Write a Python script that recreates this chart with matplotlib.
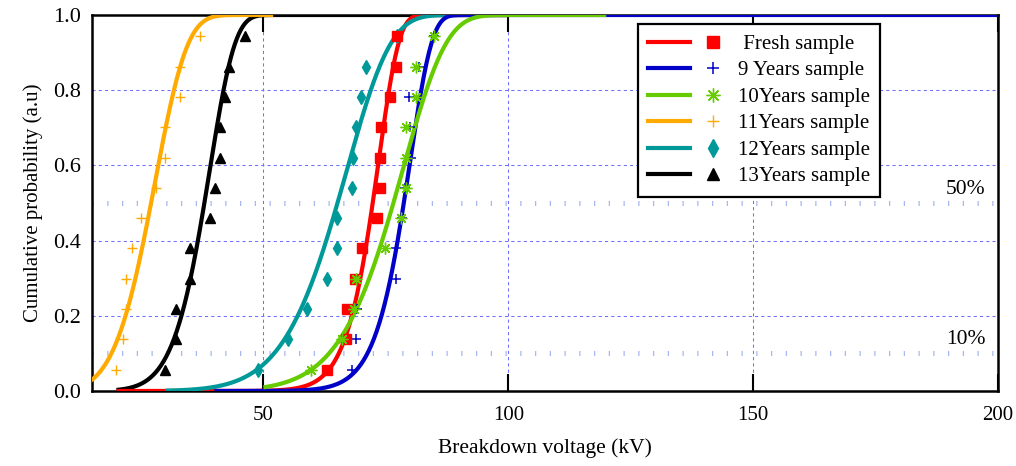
import numpy as np
import matplotlib
matplotlib.use("Agg")
import matplotlib.pyplot as plt
from matplotlib.lines import Line2D
from matplotlib.legend_handler import HandlerTuple

plt.rcParams['font.family'] = ['Liberation Serif', 'DejaVu Serif']

# ---------------- data ----------------
ranks = [0.056, 0.137, 0.218, 0.298, 0.379, 0.460, 0.540, 0.621, 0.702, 0.782, 0.863, 0.944]

labels = [" Fresh sample", "9 Years sample", "10Years sample", "11Years sample",
          "12Years sample", "13Years sample"]

fresh_x = [63.0, 66.8, 67.1, 68.8, 70.2, 73.1, 73.8, 73.9, 74.1, 75.8, 77.0, 77.2]
y9_x = [68.0, 69.0, 69.2, 77.0, 77.0, 78.2, 79.0, 80.2, 79.9, 79.8, 81.8, 84.8]
y10_x = [59.8, 66.1, 68.4, 69.0, 74.9, 78.0, 79.1, 79.1, 79.1, 81.1, 81.1, 84.8]
y11_x = [19.9, 21.3, 21.9, 21.9, 23.1, 25.1, 28.0, 30.0, 30.0, 33.0, 33.0, 37.0]
y12_x = [48.9, 55.1, 58.9, 63.0, 65.1, 65.1, 68.0, 68.2, 69.0, 70.0, 70.9, 77.2]
y13_x = [30.0, 32.1, 32.1, 35.1, 35.0, 39.1, 40.1, 41.1, 41.1, 42.2, 43.0, 46.2]

# Weibull fit parameters (scale eta [kV], shape beta) and plotted ranges
weib_scale = [73.75, 80.2, 79.4, 29.0, 68.0, 39.6]
weib_shape = [18.7, 19.0, 10.0, 5.3, 8.5, 8.6]
fit_start = [20, 40, 50, 10, 30, 20]
fit_end = [100, 200, 120, 52, 100, 100]

x_ticks = [50, 100, 150, 200]
y_ticks = [0.0, 0.2, 0.4, 0.6, 0.8, 1.0]

# ---------------- style ----------------
colors = ["#ff0000", "#0000c8", "#66cc00", "#ffaa00", "#009999", "#000000"]
markers = ["s", "+", (8, 2, 0), "+", "d", "^"]
msizes = [6.5, 7.5, 8.5, 7.5, 7.5, 7]
mews = [1, 1.1, 1.0, 1.0, 1, 1]
line_z = [3.6, 5, 6, 4, 4.5, 3.5]
mark_z = [10, 9, 11, 10, 8.5, 10]
series_x = [fresh_x, y9_x, y10_x, y11_x, y12_x, y13_x]

fig = plt.figure(figsize=(10.16, 4.66), dpi=100)
ax = fig.add_axes([92/1016, 1-391/466, 906/1016, 376/466])

handles = []
for i in range(6):
    xs = np.linspace(fit_start[i], fit_end[i], 600)
    F = 1 - np.exp(-(xs / weib_scale[i]) ** weib_shape[i])
    ax.plot(xs, F, color=colors[i], lw=3.0, zorder=line_z[i], solid_capstyle='butt')
    ax.plot(series_x[i], ranks, linestyle='none', marker=markers[i],
            color=colors[i], markersize=msizes[i], markeredgewidth=mews[i],
            zorder=mark_z[i])
    lh = Line2D([], [], color=colors[i], lw=3.0)
    mh = Line2D([], [], linestyle='none', marker=markers[i], color=colors[i],
                markersize=msizes[i] + 1.5, markeredgewidth=mews[i])
    handles.append((lh, mh))

ax.set_xlim(15, 200)
ax.set_ylim(0, 1)
ax.set_xticks(x_ticks)
ax.set_yticks(y_ticks)
ax.set_yticklabels([f"{v:.1f}" for v in y_ticks])

# grid
for xv in [50, 100, 150]:
    ax.axvline(xv, color="#7070ff", lw=0.75, ls=(0, (3, 3)), zorder=1)
for yv in [0.2, 0.4, 0.6, 0.8]:
    ax.axhline(yv, color="#7070ff", lw=0.75, ls=(0, (3, 3)), zorder=1)
for yv in [0.5, 0.1]:
    ax.axhline(yv, color="#a8b8f0", lw=3.6, ls=(0, (0.25, 2.7)), zorder=1)

ax.text(197.5, 0.535, "50%", ha='right', va='center', fontsize=15.5)
ax.text(197.5, 0.136, "10%", ha='right', va='center', fontsize=15.5)

for s in ax.spines.values():
    s.set_linewidth(1.8)
    s.set_color('black')

ax.tick_params(axis='x', direction='in', top=True, bottom=True, length=12,
               width=1.5, labelsize=15, pad=11)
ax.tick_params(axis='y', length=0, labelsize=16, pad=8)

ax.set_xlabel("Breakdown voltage (kV)", fontsize=15.5, labelpad=9)
ax.set_ylabel("Cumulative probability (a.u)", fontsize=15, labelpad=7)

leg = ax.legend(handles, labels, handler_map={tuple: HandlerTuple(ndivide=None, pad=0.1)},
                loc='upper right', bbox_to_anchor=(0.87, 0.976), borderaxespad=0,
                fontsize=15, numpoints=1, handlelength=4.1, handletextpad=0.2,
                labelspacing=0.33, borderpad=0.5, fancybox=False, framealpha=1,
                edgecolor='black')
leg.get_frame().set_linewidth(1.6)
leg.set_zorder(20)

fig.savefig("out.png", dpi=100)
